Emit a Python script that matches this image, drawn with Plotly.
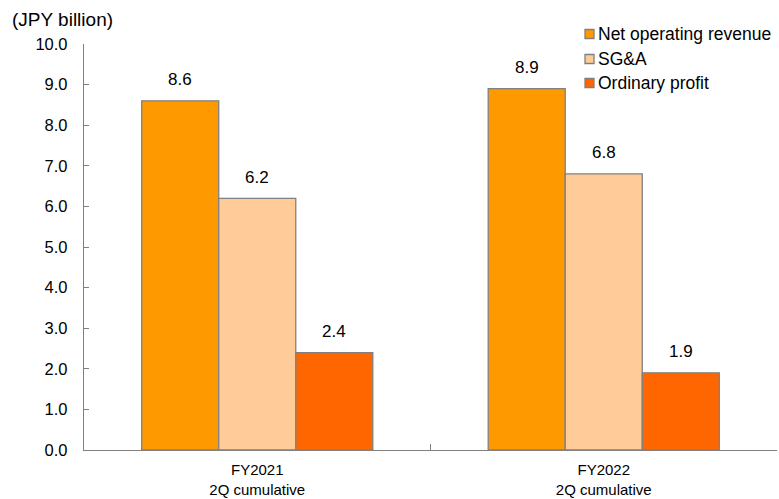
import plotly.graph_objects as go

# Half-year cumulative results (JPY billion)
periods = ["FY2021<br>2Q cumulative", "FY2022<br>2Q cumulative"]
series_names = ["Net operating revenue", "SG&A", "Ordinary profit"]
net_operating_revenue = [8.6, 8.9]
sga = [6.2, 6.8]
ordinary_profit = [2.4, 1.9]
series_colors = ["#FF9900", "#FFCC99", "#FF6600"]

y_ticks = [i * 1.0 for i in range(11)]

FONT = "Arial, 'Liberation Sans', sans-serif"
W, H = 779, 499
M = dict(l=84, r=2, t=44, b=49)
BARGAP = 0.333
EDGE = "#808080"

plot_w = W - M["l"] - M["r"]
plot_h = H - M["t"] - M["b"]


def px_x(px):
    return (px - M["l"]) / plot_w


def px_y(py):
    return (H - M["b"] - py) / plot_h


all_values = [net_operating_revenue, sga, ordinary_profit]

fig = go.Figure()
for name, values, color in zip(series_names, all_values, series_colors):
    fig.add_trace(go.Bar(
        name=name,
        x=periods,
        y=values,
        marker=dict(color=color, line=dict(color=EDGE, width=1.3)),
        showlegend=False,
    ))

annotations = []
shapes = []

# value labels above each bar
n = len(all_values)
slot = (1 - BARGAP) / n
for k, values in enumerate(all_values):
    for i, v in enumerate(values):
        annotations.append(dict(
            x=i + (k - (n - 1) / 2) * slot,
            y=v,
            xref="x", yref="y",
            text=f"{v:.1f}",
            showarrow=False,
            yanchor="middle",
            yshift=21,
            font=dict(size=17, family=FONT, color="#000000"),
        ))

# legend: small bordered squares with labels, top right
row_centers = [34, 59, 83]
for name, color, cy in zip(series_names, series_colors, row_centers):
    shapes.append(dict(
        type="rect", xref="paper", yref="paper",
        x0=px_x(585), x1=px_x(594), y0=px_y(cy + 4.5), y1=px_y(cy - 4.5),
        fillcolor=color, line=dict(color=EDGE, width=1.3),
    ))
    annotations.append(dict(
        x=px_x(596), y=px_y(cy),
        xref="paper", yref="paper",
        xanchor="left", yanchor="middle",
        text=name, showarrow=False,
        font=dict(size=17.5, family=FONT, color="#000000"),
    ))

# unit label
annotations.append(dict(
    text="(JPY billion)",
    xref="paper", yref="paper",
    x=px_x(10), y=px_y(19),
    xanchor="left", yanchor="middle",
    showarrow=False,
    font=dict(size=19, family=FONT, color="#000000"),
))

fig.update_layout(
    width=W,
    height=H,
    barmode="group",
    bargap=BARGAP,
    bargroupgap=0,
    plot_bgcolor="white",
    paper_bgcolor="white",
    font=dict(family=FONT, color="#000000"),
    margin=M,
    showlegend=False,
    annotations=annotations,
    shapes=shapes,
)

fig.update_yaxes(
    range=[0, 10],
    tickvals=y_ticks,
    ticktext=[f"{v:.1f}" for v in y_ticks],
    showgrid=False,
    zeroline=False,
    showline=True,
    linecolor=EDGE,
    linewidth=1.3,
    ticks="inside",
    ticklen=5,
    tickcolor=EDGE,
    tickfont=dict(size=16.5, family=FONT),
    ticklabelstandoff=12,
    automargin=False,
)
fig.update_xaxes(
    showgrid=False,
    showline=True,
    linecolor=EDGE,
    linewidth=1.3,
    ticks="inside",
    tickson="boundaries",
    ticklen=6,
    tickcolor=EDGE,
    tickfont=dict(size=15, family=FONT),
    ticklabelstandoff=6,
    automargin=False,
)

fig.write_html("out.html")
